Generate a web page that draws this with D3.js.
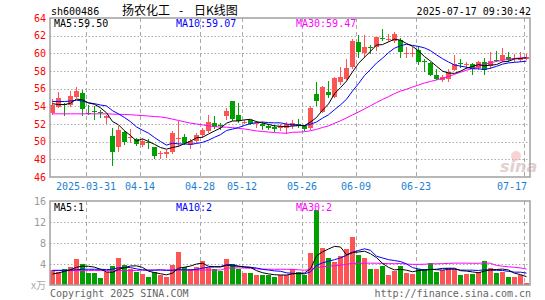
<!DOCTYPE html>
<html>
<head>
<meta charset="utf-8">
<script src="https://cdn.jsdelivr.net/npm/d3@7"></script>
<style>
  body { margin: 0; background: #fff; }
  text { font-family: "DejaVu Sans Mono", monospace; font-size: 10px; }
</style>
</head>
<body>
<div id="chart"></div>
<script>
// daily K data, 2025-03-21 .. 2025-07-17
const dates = ["03-21","03-24","03-25","03-26","03-27","03-28","03-31","04-01","04-02","04-03",
  "04-07","04-08","04-09","04-10","04-11","04-14","04-15","04-16","04-17","04-18",
  "04-21","04-22","04-23","04-24","04-25","04-28","04-29","04-30","05-06","05-07",
  "05-08","05-09","05-12","05-13","05-14","05-15","05-16","05-19","05-20","05-21",
  "05-22","05-23","05-26","05-27","05-28","05-29","05-30","06-03","06-04","06-05",
  "06-06","06-09","06-10","06-11","06-12","06-13","06-16","06-17","06-18","06-19",
  "06-20","06-23","06-24","06-25","06-26","06-27","06-30","07-01","07-02","07-03",
  "07-04","07-07","07-08","07-09","07-10","07-11","07-14","07-15","07-16","07-17"];

const open = [53.3,53.95,54.25,54.2,55.05,55.5,53.25,53.45,53.4,52.7,
  50.6,49.4,51.05,50.4,50.3,49.6,50.0,49.4,48.6,48.55,
  48.85,50.3,50.55,49.6,50.1,50.8,51.2,52.1,51.9,52.85,
  54.65,53.0,52.15,52.4,51.95,51.95,51.8,51.7,51.5,51.5,
  51.8,52.0,51.75,51.5,55.45,53.4,55.65,55.1,56.7,57.15,
  58.4,61.3,60.05,60.75,60.7,61.75,61.55,61.35,61.5,59.9,
  59.95,60.4,59.1,58.9,57.6,57.0,57.05,58.15,58.9,58.7,
  58.75,58.3,59.0,58.6,59.25,59.2,59.6,59.35,59.3,59.35];
const high = [54.85,55.6,54.4,55.7,56.2,55.8,54.1,54.0,53.6,53.0,
  51.6,51.75,51.2,51.45,50.45,50.25,50.3,49.45,48.9,49.05,
  51.25,52.35,50.9,50.35,51.0,51.6,53.0,52.85,52.1,53.85,
  54.65,54.35,52.5,52.5,52.3,52.2,52.0,51.9,52.0,52.2,
  52.4,52.6,51.85,54.0,56.7,56.3,56.9,57.3,58.5,59.4,
  61.6,62.1,62.1,60.95,61.9,62.75,62.15,62.45,61.7,60.75,
  60.75,60.85,59.35,59.0,58.2,57.55,58.2,59.8,59.35,59.0,
  58.85,59.15,59.5,60.1,60.25,60.55,60.2,59.9,60.1,59.95];
const low = [53.05,53.8,52.95,53.9,54.9,52.9,53.05,52.45,52.7,52.05,
  47.3,48.8,49.6,49.9,49.5,49.45,49.2,48.0,48.0,48.1,
  48.6,49.4,49.65,49.2,49.8,50.45,51.0,51.4,51.35,52.45,
  52.3,52.1,51.95,51.9,51.6,51.3,51.3,51.1,51.25,50.9,
  51.4,51.6,51.25,51.3,54.0,53.2,55.0,54.9,56.4,57.0,
  58.2,59.5,59.5,59.9,60.3,61.4,61.3,61.2,59.5,59.45,
  59.6,58.7,57.9,57.45,56.95,56.8,56.8,58.05,58.3,58.2,
  57.5,58.1,57.6,58.2,59.0,59.05,59.05,59.0,59.0,59.3];
const close = [54.15,54.9,54.15,55.2,55.7,53.75,53.15,53.35,53.2,52.9,
  48.8,51.3,49.95,50.55,49.75,50.05,49.8,48.35,48.75,48.8,
  51.0,50.45,49.9,50.1,50.75,51.3,52.25,51.65,51.75,53.5,
  52.55,52.3,52.25,52.05,52.15,51.8,51.5,51.45,51.8,52.0,
  52.1,51.75,51.45,53.8,54.6,56.2,55.3,57.2,57.3,58.3,
  61.4,60.1,60.7,60.65,61.85,61.65,61.65,62.2,60.1,60.0,
  60.05,59.0,59.0,57.55,57.1,57.3,57.9,58.8,58.8,58.8,
  58.25,59.0,58.1,59.15,59.15,59.8,59.3,59.45,59.4,59.55];
// volume, 万手
const volume = [2.9,2.5,3.1,3.4,4.95,4.0,2.35,2.3,1.4,2.4,
  3.6,5.2,3.8,3.1,2.55,2.1,1.6,2.5,2.0,1.45,
  3.8,6.3,3.4,3.1,3.4,4.6,3.3,3.1,2.7,5.0,
  4.0,3.1,2.3,2.3,2.0,2.0,2.0,1.5,2.0,2.0,
  3.1,2.4,1.9,6.1,14.2,7.0,5.1,4.4,5.5,6.8,
  9.1,5.7,5.1,3.1,3.1,3.6,1.9,2.7,3.6,2.3,
  2.1,3.1,3.1,4.2,2.5,2.9,3.25,3.1,1.9,2.1,
  2.1,2.5,4.6,3.25,2.3,2.5,1.6,1.6,1.9,0.3];

// moving-average values before a full window exists
const ma5Head = [54.3,54.2,54.2,54.35];
const ma10Head = [54.55,54.55,54.55,54.6,54.7,54.6,54.4,54.3,54.15];
const ma30Head = [53.15,53.15,53.15,53.15,53.15,53.15,53.15,53.15,53.15,53.15,
  53.12,53.1,53.08,53.05,53.0,52.95,52.9,52.85,52.8,52.7,
  52.55,52.4,52.25,52.1,52.0,51.9,51.8,51.7,51.65];
const vma5Head = [2.1,2.3,2.6,2.9];
const vma10Head = [2.8,2.8,2.8,2.85,2.9,3.0,3.0,3.0,3.0];
const vma30Head = [2.75,2.75,2.75,2.75,2.75,2.75,2.75,2.75,2.75,2.75,
  2.75,2.75,2.75,2.75,2.75,2.85,2.85,2.85,2.85,2.85,
  2.85,2.85,2.85,2.85,2.85,2.85,2.85,2.85,2.85];

const priceTicks = [64,62,60,58,56,54,52,50,48,46];
const volTicks = [16,12,8,4];
const tickDates = ["03-31","04-14","04-28","05-12","05-26","06-09","06-23","07-17"];
const tickLabels = ["2025-03-31","04-14","04-28","05-12","05-26","06-09","06-23","07-17"];

const RED = "#ff5454", GREEN = "#00a000";

function ma(values, n, head) {
  return values.map((v, i) => i < n - 1 ? head[i] : d3.mean(values.slice(i - n + 1, i + 1)));
}

const svg = d3.select("#chart").append("svg")
  .attr("width", 545).attr("height", 300);

const x = d3.scaleBand().domain(d3.range(dates.length)).range([50, 530]);
const yP = d3.scaleLinear().domain([46, 64]).range([177, 18]);
const yV = d3.scaleLinear().domain([0, 16]).range([285, 201]);

// header
svg.append("text").attr("x", 51).attr("y", 15).text("sh600486");
[["扬农化工", 122, "start"], ["-", 181, "middle"], ["日K线图", 194, "start"]].forEach(([t, tx, a]) => {
  svg.append("text").attr("x", tx).attr("y", 15).attr("text-anchor", a)
    .style("font-family", "'Noto Sans CJK SC'").style("font-size", "12px")
    .text(t);
});
svg.append("text").attr("x", 531).attr("y", 15).attr("text-anchor", "end")
  .text("2025-07-17 09:30:42");

// grids
function grid(g, yScale, ticks, top, bottom) {
  g.selectAll(".h").data(ticks).join("line")
    .attr("x1", 50).attr("x2", 530)
    .attr("y1", d => Math.round(yScale(d)) + 0.5).attr("y2", d => Math.round(yScale(d)) + 0.5)
    .attr("stroke", "#aaa").attr("stroke-dasharray", "1.5,2");
  g.selectAll(".v").data(tickDates).join("line")
    .attr("x1", d => x(dates.indexOf(d)) + 0.5).attr("x2", d => x(dates.indexOf(d)) + 0.5)
    .attr("y1", top).attr("y2", bottom)
    .attr("stroke", "#aaa").attr("stroke-dasharray", "4,3");
}
grid(svg.append("g"), yP, priceTicks.slice(1, -1), 18, 177);
grid(svg.append("g"), yV, volTicks.slice(1), 201, 285);

// candles
const idx = d3.range(dates.length);
const cg = svg.append("g").attr("shape-rendering", "crispEdges");
cg.selectAll("line").data(idx).join("line")
  .attr("x1", i => x(i) + 2.5).attr("x2", i => x(i) + 2.5)
  .attr("y1", i => yP(high[i])).attr("y2", i => yP(low[i]))
  .attr("stroke", i => close[i] >= open[i] ? RED : GREEN);
cg.selectAll("rect").data(idx).join("rect")
  .attr("x", i => x(i)).attr("width", 5)
  .attr("y", i => yP(Math.max(open[i], close[i])))
  .attr("height", i => Math.max(1, Math.abs(yP(open[i]) - yP(close[i]))))
  .attr("fill", i => close[i] >= open[i] ? RED : GREEN);

// volume bars
svg.append("g").attr("shape-rendering", "crispEdges")
  .selectAll("rect").data(idx).join("rect")
  .attr("x", i => x(i)).attr("width", 5)
  .attr("y", i => yV(volume[i])).attr("height", i => yV(0) - yV(volume[i]))
  .attr("fill", i => close[i] >= open[i] ? RED : GREEN);

// moving averages
function maLine(vals, yScale, color) {
  svg.append("path").datum(vals)
    .attr("fill", "none").attr("stroke", color).attr("stroke-width", 1)
    .attr("d", d3.line().x((d, i) => x(i) + 2.5).y(d => yScale(d)));
}
maLine(ma(close, 30, ma30Head), yP, "#ff00ff");
maLine(ma(close, 10, ma10Head), yP, "#0000ff");
maLine(ma(close, 5, ma5Head), yP, "#000");
maLine(ma(volume, 30, vma30Head), yV, "#ff00ff");
maLine(ma(volume, 10, vma10Head), yV, "#0000ff");
maLine(ma(volume, 5, vma5Head), yV, "#000");

// sina watermark
svg.append("circle").attr("cx", 516).attr("cy", 156).attr("r", 5)
  .attr("fill", "#f3a8a8").attr("opacity", 0.5);
svg.append("text").attr("x", 500).attr("y", 172)
  .style("font-family", "'DejaVu Sans'").style("font-size", "16px")
  .style("font-weight", "bold").style("font-style", "italic")
  .attr("fill", "#d9c0c0").attr("opacity", 0.75).text("sina");

// frames
[[18, 177], [201, 285]].forEach(([t, b]) => {
  svg.append("rect").attr("x", 50).attr("y", t).attr("width", 480).attr("height", b - t)
    .attr("fill", "none").attr("stroke", "#a0a0a0").attr("stroke-width", 1.5);
});

// axis labels
svg.selectAll(".py").data(priceTicks).join("text")
  .attr("x", 46).attr("y", d => yP(d) + 3.5).attr("text-anchor", "end")
  .attr("fill", "#f00").text(d => d);
svg.selectAll(".vy").data(volTicks).join("text")
  .attr("x", 46).attr("y", d => yV(d) + 3.5).attr("text-anchor", "end")
  .attr("fill", "#999").text(d => d);
svg.append("text").attr("x", 46).attr("y", 289).attr("text-anchor", "end")
  .attr("fill", "#aaa").style("font-family", "'Noto Sans CJK SC'").text("x万");

svg.selectAll(".xl").data(tickDates).join("text")
  .attr("x", (d, i) => i === tickDates.length - 1 ? 527 : x(dates.indexOf(d)))
  .attr("y", 190)
  .attr("text-anchor", (d, i) => i === tickDates.length - 1 ? "end" : "middle")
  .attr("fill", "#1e7fd0").text((d, i) => tickLabels[i]);

// legends
const legend = [["MA5:59.50", "#000", 54], ["MA10:59.07", "#0000ff", 176], ["MA30:59.47", "#ff00ff", 296]];
const vlegend = [["MA5:1", "#000", 54], ["MA10:2", "#0000ff", 176], ["MA30:2", "#ff00ff", 296]];
legend.forEach(([t, c, lx]) => svg.append("text").attr("x", lx).attr("y", 27).attr("fill", c).text(t));
vlegend.forEach(([t, c, lx]) => svg.append("text").attr("x", lx).attr("y", 211).attr("fill", c).text(t));

// footer
svg.append("text").attr("x", 50).attr("y", 297).attr("fill", "#666").text("Copyright 2025 SINA.COM");
svg.append("text").attr("x", 531).attr("y", 297).attr("text-anchor", "end").attr("fill", "#666")
  .text("http://finance.sina.com.cn");
</script>
</body>
</html>
